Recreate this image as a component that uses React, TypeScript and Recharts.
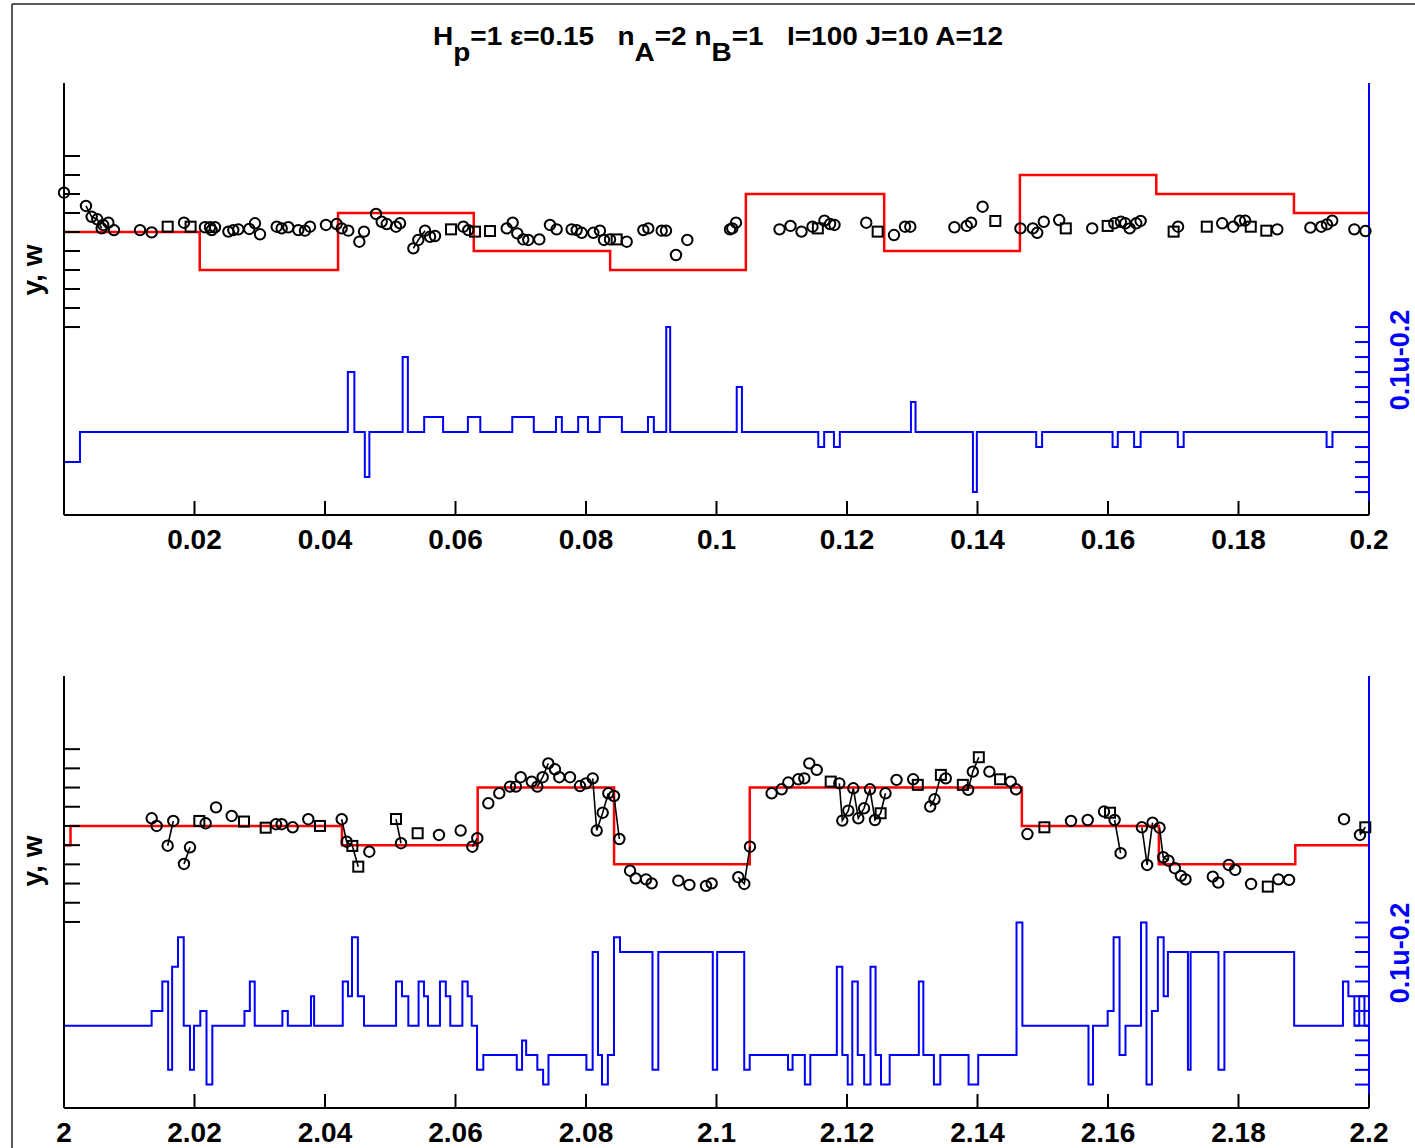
import React from 'react';
import { ComposedChart, Line, Scatter, XAxis, YAxis } from 'recharts';

const FONT = '"Liberation Sans", Arial, Helvetica, sans-serif';

// ---------- tick labels ----------
const topXTicks = [0.02, 0.04, 0.06, 0.08, 0.1, 0.12, 0.14, 0.16, 0.18, 0.2];
const botXTicks = [2, 2.02, 2.04, 2.06, 2.08, 2.1, 2.12, 2.14, 2.16, 2.18, 2.2];
const leftTicks = [0, 1, 2, 3, 4, 5, 6, 7, 8, 9];
const rightTicks = [-4, -3, -2, -1, 0, 1, 2, 3, 4, 5, 6, 7];

// ---------- top panel: w (red step) [t, w] ----------
const topW: [number, number][] = [
  [0, 5], [0.0208, 3], [0.042, 6], [0.0628, 4], [0.0837, 3], [0.1045, 7],
  [0.1257, 4], [0.1465, 8], [0.1674, 7], [0.1885, 6], [0.2, 6],
];

// ---------- top panel: u (blue step) [t, u] ----------
const topU: [number, number][] = [
  [0, -2], [0.00245, 0], [0.0435, 4], [0.0445, 0], [0.0461, -3], [0.0468, 0],
  [0.0519, 5], [0.0527, 0], [0.0552, 1], [0.0581, 0], [0.0619, 1], [0.0638, 0],
  [0.0687, 1], [0.072, 0], [0.0754, 1], [0.0763, 0], [0.0788, 1], [0.0803, 0],
  [0.0821, 1], [0.0855, 0], [0.0895, 1], [0.0904, 0], [0.0923, 7], [0.0929, 0],
  [0.1031, 3], [0.1039, 0], [0.1156, -1], [0.1165, 0], [0.118, -1], [0.1189, 0],
  [0.1298, 2], [0.1305, 0], [0.1393, -4], [0.1399, 0], [0.149, -1], [0.1499, 0],
  [0.1607, -1], [0.1615, 0], [0.164, -1], [0.165, 0], [0.1707, -1], [0.1716, 0],
  [0.1935, -1], [0.1944, 0], [0.2, 0],
];

// ---------- top panel: y markers ----------
const topCircles: [number, number][] = [
  [0, 7.07], [0.00337, 6.37], [0.00424, 5.8], [0.0051, 5.67], [0.00577, 5.19], [0.006, 5.37],
  [0.0068, 5.49], [0.00766, 5.1], [0.01165, 5.1], [0.01344, 4.98], [0.01839, 5.49], [0.0216, 5.25],
  [0.02238, 5.25], [0.02263, 5.1], [0.02314, 5.25], [0.02519, 5.02], [0.02595, 5.1], [0.02672, 5.14],
  [0.0284, 5.16], [0.02927, 5.46], [0.03004, 4.88], [0.0326, 5.28], [0.03336, 5.19], [0.03438, 5.25],
  [0.03591, 5.1], [0.03693, 5.07], [0.0377, 5.28], [0.04015, 5.37], [0.04179, 5.42], [0.04255, 5.19],
  [0.04357, 5.07], [0.04526, 4.49], [0.04598, 5.02], [0.04782, 5.95], [0.04869, 5.54], [0.04946, 5.42],
  [0.05088, 5.28], [0.0515, 5.46], [0.05354, 4.14], [0.0543, 4.58], [0.05533, 5.07], [0.0561, 4.75],
  [0.05686, 4.79], [0.0612, 5.28], [0.06196, 5.1], [0.06785, 5.19], [0.06876, 5.49], [0.06947, 4.93],
  [0.07039, 4.61], [0.07116, 4.58], [0.07285, 4.61], [0.07448, 5.37], [0.0755, 5.14], [0.0778, 5.14],
  [0.07857, 5.1], [0.07934, 4.96], [0.08112, 4.96], [0.08214, 5.07], [0.08276, 4.58], [0.08368, 4.61],
  [0.08624, 4.49], [0.08879, 5.1], [0.08955, 5.19], [0.0916, 5.07], [0.09226, 5.07], [0.09379, 3.79],
  [0.09553, 4.58], [0.10207, 5.14], [0.10242, 5.19], [0.10299, 5.49], [0.10966, 5.14], [0.11134, 5.32],
  [0.11303, 5.02], [0.11471, 5.28], [0.11654, 5.6], [0.11741, 5.42], [0.11808, 5.37], [0.12295, 5.49],
  [0.1272, 4.84], [0.12889, 5.28], [0.1297, 5.28], [0.13646, 5.25], [0.13835, 5.32], [0.13902, 5.49],
  [0.14078, 6.33], [0.14658, 5.19], [0.14848, 5.19], [0.14915, 4.96], [0.15016, 5.54], [0.15252, 5.63],
  [0.15758, 5.19], [0.16096, 5.46], [0.16197, 5.54], [0.16265, 5.46], [0.16332, 5.19], [0.16433, 5.46],
  [0.165, 5.58], [0.17074, 5.28], [0.1775, 5.46], [0.17919, 5.28], [0.1802, 5.6], [0.18101, 5.6],
  [0.18595, 5.14], [0.19101, 5.23], [0.19269, 5.28], [0.19356, 5.4], [0.19437, 5.6], [0.19775, 5.14],
  [0.19945, 5.05],
];
const topSquares: [number, number][] = [
  [0.01589, 5.28], [0.0194, 5.28], [0.05931, 5.14], [0.06299, 5.02], [0.06529, 5.05], [0.0847, 4.61],
  [0.11553, 5.19], [0.1247, 5.02], [0.14273, 5.58], [0.15353, 5.19], [0.15995, 5.32], [0.17006, 5.02],
  [0.17514, 5.28], [0.18188, 5.28], [0.18426, 5.07],
];
const topLinks: [number, number][][] = [
  [[0.00337, 6.37], [0.00424, 5.8], [0.0051, 5.67], [0.00577, 5.19]],
  [[0.05354, 4.14], [0.0543, 4.58], [0.05533, 5.07]],
];

// ---------- bottom panel: w (red step) ----------
const botW: [number, number][] = [
  [2, 4], [2.001, 5], [2.0426, 4], [2.0634, 7], [2.0843, 3], [2.1051, 7],
  [2.1468, 5], [2.1678, 3], [2.1887, 4], [2.2, 4],
];

// ---------- bottom panel: u (blue step) ----------
const botU: [number, number][] = [
  [2, 0], [2.01343, 1], [2.01507, 3], [2.01596, -3], [2.01657, 4], [2.01747, 6], [2.01835, 0],
  [2.01931, -3], [2.01992, 0], [2.02089, 1], [2.02184, -4], [2.02273, 0], [2.02766, 1], [2.02848, 3],
  [2.02923, 0], [2.03347, 1], [2.0343, 0], [2.03785, 2], [2.03833, 0], [2.04272, 3], [2.04353, 2],
  [2.04414, 6], [2.04504, 2], [2.04598, 0], [2.05089, 3], [2.0518, 2], [2.05277, 0], [2.05434, 3],
  [2.05517, 2], [2.05578, 0], [2.05762, 3], [2.05851, 2], [2.0592, 0], [2.06105, 3], [2.06187, 2],
  [2.06249, 0], [2.0633, -3], [2.06426, -2], [2.06939, -3], [2.0702, -1], [2.07083, -2], [2.07254, -3],
  [2.07343, -4], [2.07425, -2], [2.08006, -3], [2.08102, 5], [2.08184, -2], [2.08245, -4], [2.08335, -2],
  [2.08429, 6], [2.08521, 5], [2.09019, -3], [2.09108, 5], [2.09943, -3], [2.1001, 5], [2.10425, -3],
  [2.10509, -2], [2.11096, -3], [2.11166, -2], [2.11354, -4], [2.11438, -2], [2.11844, 4], [2.11928, -2],
  [2.12011, -4], [2.12081, 3], [2.12165, -2], [2.12263, -4], [2.1236, 4], [2.12438, -2], [2.12521, -4],
  [2.12654, -2], [2.13101, 3], [2.1317, -2], [2.13332, -4], [2.1343, -2], [2.13863, -4], [2.14011, -2],
  [2.14598, 7], [2.14688, 0], [2.15701, -4], [2.1577, 0], [2.15995, 1], [2.16086, 6], [2.16177, -2],
  [2.16268, 0], [2.16506, 7], [2.1659, -4], [2.16673, 1], [2.16764, 6], [2.16853, 2], [2.16918, 5],
  [2.17225, -3], [2.17266, 5], [2.17693, -3], [2.17784, 5], [2.18853, 0], [2.19601, 3], [2.19684, 2],
  [2.19776, 0], [2.1985, 2], [2.1993, 0], [2.2, 0],
];

// ---------- bottom panel: y markers ----------
const botCircles: [number, number][] = [
  [2.01344, 5.4], [2.0142, 5.0], [2.01589, 3.97], [2.01675, 5.26], [2.01839, 3.02], [2.01931, 3.89],
  [2.02171, 5.14], [2.0233, 5.97], [2.0257, 5.52], [2.03249, 5.09], [2.03336, 5.09], [2.03505, 4.93],
  [2.03744, 5.35], [2.04256, 5.35], [2.04332, 4.18], [2.04679, 3.66], [2.05165, 4.1], [2.05747, 4.53],
  [2.06079, 4.76], [2.06258, 3.92], [2.06334, 4.36], [2.06503, 6.18], [2.06671, 6.7], [2.06835, 7.05],
  [2.06927, 7.05], [2.06999, 7.54], [2.07168, 7.31], [2.07254, 7.05], [2.07336, 7.54], [2.07422, 8.26],
  [2.07525, 7.95], [2.07591, 7.54], [2.07755, 7.54], [2.07908, 7.08], [2.08, 7.22], [2.08103, 7.48],
  [2.08164, 4.76], [2.08256, 5.69], [2.08342, 6.7], [2.08429, 6.56], [2.08511, 4.32], [2.08675, 2.67],
  [2.08762, 2.27], [2.0892, 2.22], [2.09007, 2.01], [2.09415, 2.15], [2.09584, 1.93], [2.09839, 1.88],
  [2.09926, 2.01], [2.10334, 2.33], [2.10426, 1.98], [2.10513, 3.92], [2.10845, 6.7], [2.10998, 6.91],
  [2.111, 7.26], [2.11254, 7.43], [2.11346, 7.48], [2.11422, 8.26], [2.11536, 7.92], [2.11882, 7.22],
  [2.11928, 5.28], [2.1202, 5.8], [2.12097, 6.96], [2.12173, 5.4], [2.12261, 5.92], [2.12352, 6.91],
  [2.12429, 5.31], [2.1259, 6.7], [2.12759, 7.4], [2.13014, 7.43], [2.13275, 6.01], [2.13341, 6.39],
  [2.13514, 7.48], [2.13857, 6.88], [2.13928, 7.83], [2.14182, 7.83], [2.14509, 7.31], [2.1459, 6.91],
  [2.14765, 4.58], [2.15433, 5.26], [2.15689, 5.31], [2.15939, 5.75], [2.16101, 5.31], [2.16193, 3.58],
  [2.16519, 4.93], [2.166, 2.97], [2.16683, 5.17], [2.1679, 4.91], [2.16846, 3.37], [2.16927, 3.19],
  [2.17025, 2.8], [2.17117, 2.4], [2.17188, 2.22], [2.17606, 2.36], [2.17689, 2.05], [2.17851, 2.97],
  [2.17949, 2.71], [2.18193, 1.98], [2.18611, 2.22], [2.18775, 2.19], [2.19617, 5.35], [2.19862, 4.53],
];
const botSquares: [number, number][] = [
  [2.02074, 5.26], [2.02759, 5.23], [2.03091, 4.91], [2.03923, 5.0], [2.04419, 3.96], [2.0451, 2.88],
  [2.05088, 5.36], [2.0542, 4.62], [2.1175, 7.31], [2.12515, 5.66], [2.13085, 7.14], [2.13439, 7.66],
  [2.13775, 7.14], [2.1402, 8.58], [2.14346, 7.43], [2.15025, 4.93], [2.16031, 5.69], [2.18449, 1.84],
  [2.19943, 4.93],
];
const botLinks: [number, number][][] = [
  [[2.01589, 3.97], [2.01675, 5.26]],
  [[2.01839, 3.02], [2.01931, 3.89]],
  [[2.04256, 5.35], [2.04332, 4.18], [2.04419, 3.96], [2.0451, 2.88]],
  [[2.05088, 5.36], [2.05165, 4.1]],
  [[2.06258, 3.92], [2.06334, 4.36]],
  [[2.07254, 7.05], [2.07336, 7.54], [2.07422, 8.26]],
  [[2.08103, 7.48], [2.08164, 4.76], [2.08256, 5.69], [2.08342, 6.7]],
  [[2.08429, 6.56], [2.08511, 4.32]],
  [[2.10334, 2.33], [2.10426, 1.98], [2.10513, 3.92]],
  [[2.11882, 7.22], [2.11928, 5.28], [2.1202, 5.8], [2.12097, 6.96], [2.12173, 5.4], [2.12261, 5.92],
   [2.12352, 6.91], [2.12429, 5.31], [2.12515, 5.66], [2.1259, 6.7]],
  [[2.13275, 6.01], [2.13341, 6.39], [2.13439, 7.66]],
  [[2.13857, 6.88], [2.13928, 7.83], [2.1402, 8.58]],
  [[2.16101, 5.31], [2.16193, 3.58]],
  [[2.16519, 4.93], [2.166, 2.97], [2.16683, 5.17]],
  [[2.1679, 4.91], [2.16846, 3.37], [2.16927, 3.19]],
  [[2.19862, 4.53], [2.19943, 4.93]],
];

// ---------- helpers ----------
const toV = (arr: [number, number][]) => arr.map(([t, v]) => ({ t, v }));
const toR = (arr: [number, number][]) => arr.map(([t, r]) => ({ t, r }));
const linkData = (segs: [number, number][][]) =>
  segs.flatMap((s) => [...toV(s), { t: s[s.length - 1][0] + 0.000001, v: null as any }]);

const fmt = (v: number) => `${+Number(v).toFixed(2)}`;

const XTick = (props: any) => {
  const { x, y, payload } = props;
  return (
    <g>
      <line x1={x} x2={x} y1={y} y2={y - 14} stroke="#000" strokeWidth={2} />
      <text x={x} y={y + 34} textAnchor="middle" fontFamily={FONT} fontWeight="bold" fontSize={28} fill="#000">
        {fmt(payload.value)}
      </text>
    </g>
  );
};
const LTick = (props: any) => {
  const { x, y } = props;
  return <line x1={x} x2={x + 16} y1={y} y2={y} stroke="#000" strokeWidth={2} />;
};
const RTick = (props: any) => {
  const { x, y } = props;
  return <line x1={x} x2={x - 14} y1={y} y2={y} stroke="#0000ff" strokeWidth={2} />;
};

const circleShape = (p: any) => (
  <circle cx={p.cx} cy={p.cy} r={5.2} fill="none" stroke="#000" strokeWidth={2} />
);
const squareShape = (p: any) => (
  <rect x={p.cx - 5} y={p.cy - 5} width={10} height={10} fill="none" stroke="#000" strokeWidth={2} />
);

type PanelProps = {
  height: number;
  bottom: number;
  xDomain: [number, number];
  xTicks: number[];
  vDomain: [number, number];
  rDomain: [number, number];
  w: [number, number][];
  u: [number, number][];
  circles: [number, number][];
  squares: [number, number][];
  links: [number, number][][];
};

const Panel = (p: PanelProps) => (
  <ComposedChart width={1415} height={p.height} margin={{ top: 83, right: 26, bottom: p.bottom, left: 44 }}>
    <XAxis
      dataKey="t"
      type="number"
      domain={p.xDomain}
      ticks={p.xTicks}
      interval={0}
      tickSize={0}
      tickMargin={0}
      tickLine={false}
      tick={<XTick />}
      axisLine={{ stroke: '#000', strokeWidth: 2 }}
      height={30}
    />
    <YAxis
      yAxisId="left"
      dataKey="v"
      type="number"
      domain={p.vDomain}
      ticks={leftTicks}
      interval={0}
      tickSize={0}
      tickMargin={0}
      tickLine={false}
      tick={<LTick />}
      axisLine={{ stroke: '#000', strokeWidth: 2 }}
      width={20}
    />
    <YAxis
      yAxisId="right"
      orientation="right"
      dataKey="r"
      type="number"
      domain={p.rDomain}
      ticks={rightTicks}
      interval={0}
      tickSize={0}
      tickMargin={0}
      tickLine={false}
      tick={<RTick />}
      axisLine={{ stroke: '#0000ff', strokeWidth: 2 }}
      width={20}
    />
    <Line
      yAxisId="right"
      data={toR(p.u)}
      dataKey="r"
      type="stepAfter"
      stroke="#0000ff"
      strokeWidth={2}
      dot={false}
      activeDot={false}
      isAnimationActive={false}
    />
    <Line
      yAxisId="left"
      data={toV(p.w)}
      dataKey="v"
      type="stepAfter"
      stroke="#ff0000"
      strokeWidth={2.5}
      dot={false}
      activeDot={false}
      isAnimationActive={false}
    />
    <Line
      yAxisId="left"
      data={linkData(p.links)}
      dataKey="v"
      type="linear"
      stroke="#000"
      strokeWidth={1.6}
      dot={false}
      activeDot={false}
      connectNulls={false}
      isAnimationActive={false}
    />
    <Scatter yAxisId="left" data={toV(p.circles)} dataKey="v" shape={circleShape} isAnimationActive={false} />
    <Scatter yAxisId="left" data={toV(p.squares)} dataKey="v" shape={squareShape} isAnimationActive={false} />
  </ComposedChart>
);

const labelStyle = { fontFamily: FONT, fontWeight: 'bold' as const, fontSize: 27 };

export default function App() {
  return (
    <div style={{ position: 'absolute', left: 0, top: 0, width: 1415, height: 1148, background: '#fff', overflow: 'hidden' }}>
      <div style={{ position: 'absolute', left: 0, top: 0 }}>
        <Panel
          height={593}
          bottom={48}
          xDomain={[0, 0.2]}
          xTicks={topXTicks}
          vDomain={[-9.89, 12.84]}
          rDomain={[-5.53, 23.27]}
          w={topW}
          u={topU}
          circles={topCircles}
          squares={topSquares}
          links={topLinks}
        />
      </div>
      <div style={{ position: 'absolute', left: 0, top: 593 }}>
        <Panel
          height={555}
          bottom={10}
          xDomain={[2, 2.2]}
          xTicks={botXTicks}
          vDomain={[-9.69, 12.81]}
          rDomain={[-5.59, 23.74]}
          w={botW}
          u={botU}
          circles={botCircles}
          squares={botSquares}
          links={botLinks}
        />
      </div>
      <svg width={1415} height={1148} style={{ position: 'absolute', left: 0, top: 0, pointerEvents: 'none' }}>
        <line x1={12} x2={1415} y1={4} y2={4} stroke="#222" strokeWidth={1.5} />
        <line x1={12} x2={12} y1={4} y2={1148} stroke="#222" strokeWidth={1.5} />
        <text
          x={433}
          y={45}
          fontFamily={FONT}
          fontWeight="bold"
          fontSize={25}
          textLength={570}
          lengthAdjust="spacingAndGlyphs"
          style={{ whiteSpace: 'pre' }}
        >
          {'H'}
          <tspan dy={16}>{'p'}</tspan>
          <tspan dy={-16}>{'=1 ε=0.15   n'}</tspan>
          <tspan dy={16}>{'A'}</tspan>
          <tspan dy={-16}>{'=2 n'}</tspan>
          <tspan dy={16}>{'B'}</tspan>
          <tspan dy={-16}>{'=1   I=100 J=10 A=12'}</tspan>
        </text>
        <text x={42} y={270} transform="rotate(-90 42 270)" textAnchor="middle" {...labelStyle} fontSize={28}>y, w</text>
        <text x={42} y={861} transform="rotate(-90 42 861)" textAnchor="middle" {...labelStyle} fontSize={28}>y, w</text>
        <text x={1409} y={360} transform="rotate(-90 1409 360)" textAnchor="middle" fill="#0000ff" {...labelStyle}>0.1u-0.2</text>
        <text x={1409} y={953} transform="rotate(-90 1409 953)" textAnchor="middle" fill="#0000ff" {...labelStyle}>0.1u-0.2</text>
      </svg>
    </div>
  );
}
